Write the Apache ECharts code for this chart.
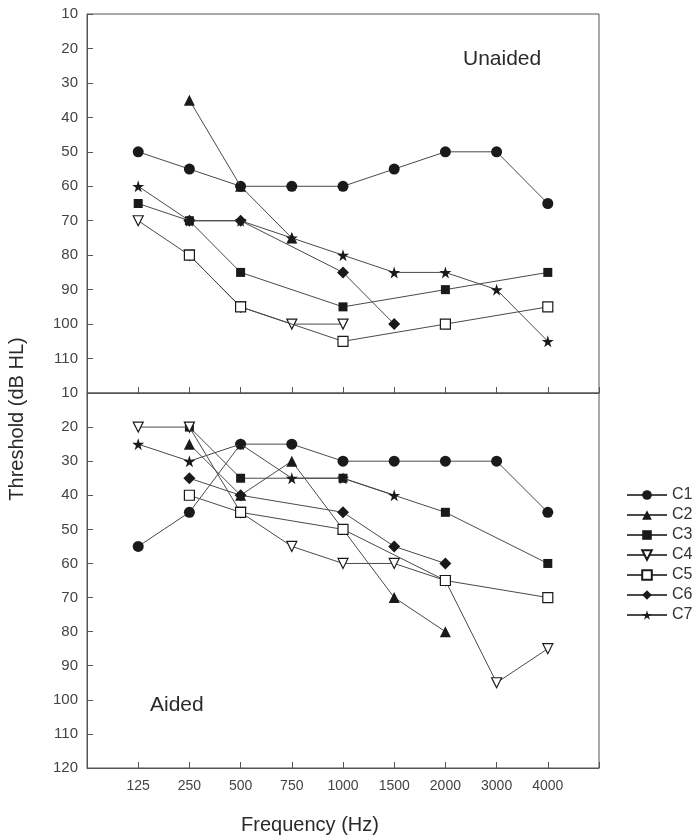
<!DOCTYPE html>
<html><head><meta charset="utf-8">
<script src="https://cdn.jsdelivr.net/npm/echarts@6/dist/echarts.min.js"></script>
<style>html,body{margin:0;padding:0;background:#fff}#c{width:700px;height:836px}</style>
</head><body><div id="c"></div>
<script>
var freqLabels = ['125','250','500','750','1000','1500','2000','3000','4000'];
var yTicks = [10,20,30,40,50,60,70,80,90,100,110,120];
var seriesNames = ['C1','C2','C3','C4','C5','C6','C7'];

// Unaided thresholds (dB HL), null = not measured
var unaidedC1 = [50,55,60,60,60,55,50,50,65];
var unaidedC2 = [null,35,60,75,null,null,null,null,null];
var unaidedC3 = [65,70,85,null,95,null,90,null,85];
var unaidedC4 = [70,80,95,100,100,null,null,null,null];
var unaidedC5 = [null,80,95,null,105,null,100,null,95];
var unaidedC6 = [null,70,70,null,85,100,null,null,null];
var unaidedC7 = [60,70,70,75,80,85,85,90,105];

// Aided thresholds (dB HL)
var aidedC1 = [55,45,25,25,30,30,30,30,45];
var aidedC2 = [null,25,40,30,50,70,80,null,null];
var aidedC3 = [null,20,35,null,35,null,45,null,60];
var aidedC4 = [20,20,45,55,60,60,65,95,85];
var aidedC5 = [null,40,45,null,50,null,65,null,70];
var aidedC6 = [null,35,40,null,45,55,60,null,null];
var aidedC7 = [25,30,25,35,35,40,null,null,null];

var unaided = [unaidedC1,unaidedC2,unaidedC3,unaidedC4,unaidedC5,unaidedC6,unaidedC7];
var aided = [aidedC1,aidedC2,aidedC3,aidedC4,aidedC5,aidedC6,aidedC7];

var STAR = 'path://M50,0 L61,35 L98,35 L68,57 L79,91 L50,70 L21,91 L32,57 L2,35 L39,35 Z';
var styles = [
  {symbol:'circle', size:11, fill:'#1a1a1a', rot:0},
  {symbol:'triangle', size:11, fill:'#1a1a1a', rot:0},
  {symbol:'rect', size:9, fill:'#1a1a1a', rot:0},
  {symbol:'triangle', size:10, fill:'#ffffff', rot:180},
  {symbol:'rect', size:10, fill:'#ffffff', rot:0},
  {symbol:'diamond', size:12, fill:'#1a1a1a', rot:0},
  {symbol:STAR, size:12, fill:'#1a1a1a', rot:0}
];

function toPairs(arr){
  var out=[];
  arr.forEach(function(v,i){ if(v!==null) out.push([i+1,v]); });
  return out;
}

var series=[];
[unaided, aided].forEach(function(set, gi){
  set.forEach(function(arr, si){
    var st = styles[si];
    series.push({
      name: seriesNames[si], type:'line',
      xAxisIndex: gi, yAxisIndex: gi,
      data: toPairs(arr),
      symbol: st.symbol, symbolSize: st.size, symbolRotate: st.rot,
      showAllSymbol: true,
      lineStyle:{color:'#4a4a4a', width:1},
      itemStyle:{color: st.fill, borderColor:'#1a1a1a', borderWidth: st.fill==='#ffffff'?1.2:0},
      emphasis:{disabled:true},
      z: 2 + si
    });
  });
});

var axisColor = '#555';
function xAxis(gi){
  return {
    type:'value', gridIndex: gi, min:0, max:10, interval:1,
    axisLine:{show:true, lineStyle:{color:axisColor, width:1}},
    axisTick:{show:true, inside:true, length:6, lineStyle:{color:axisColor},
      interval:function(i,v){ return v>0 && v<10; }},
    axisLabel:{show: gi===1, color:'#444', fontSize:14, fontFamily:'Liberation Sans, Arial', margin:11,
      formatter:function(v){ return freqLabels[v-1] || ''; }},
    splitLine:{show:false}
  };
}
function yAxis(gi){
  return {
    type:'value', gridIndex: gi, inverse:true, min:10, max:120, interval:10,
    axisLine:{show:true, lineStyle:{color:axisColor, width:1}},
    axisTick:{show:true, inside:true, length:6, lineStyle:{color:axisColor}},
    axisLabel:{color:'#444', fontSize:15, fontFamily:'Liberation Sans, Arial', margin:9,
      formatter:function(v){ if(gi===0 && v===120) return ''; return yTicks.indexOf(v)>=0 ? String(v) : ''; }},
    splitLine:{show:false}
  };
}

var chart = echarts.init(document.getElementById('c'), null, {renderer:'canvas'});
chart.setOption({
  animation:false,
  backgroundColor:'#fff',
  grid:[
    {left:87, top:14, width:512, height:379, show:true, borderColor:axisColor, borderWidth:1},
    {left:87, top:393, width:512, height:375, show:true, borderColor:axisColor, borderWidth:1}
  ],
  xAxis:[xAxis(0), xAxis(1)],
  yAxis:[yAxis(0), yAxis(1)],
  legend:{
    data: seriesNames, orient:'vertical', left:621, top:482,
    itemWidth:40, itemHeight:12, itemGap:4,
    textStyle:{color:'#333', fontSize:16, fontFamily:'Liberation Sans, Arial', lineHeight:15},
    selectedMode:false
  },
  graphic:[
    {type:'text', left:463, top:49, style:{text:'Unaided', fontSize:21, fill:'#2a2a2a', fontFamily:'Liberation Sans, Arial'}},
    {type:'text', left:150, top:695, style:{text:'Aided', fontSize:21, fill:'#2a2a2a', fontFamily:'Liberation Sans, Arial'}},
    {type:'text', x:310, y:825, style:{text:'Frequency (Hz)', fontSize:20, fill:'#2a2a2a', fontFamily:'Liberation Sans, Arial', textAlign:'center', textVerticalAlign:'middle'}},
    {type:'text', x:17, y:419, rotation:Math.PI/2, style:{text:'Threshold (dB HL)', fontSize:20, fill:'#2a2a2a', fontFamily:'Liberation Sans, Arial', textAlign:'center', textVerticalAlign:'middle'}}
  ],
  series: series
});
</script>
</body></html>
